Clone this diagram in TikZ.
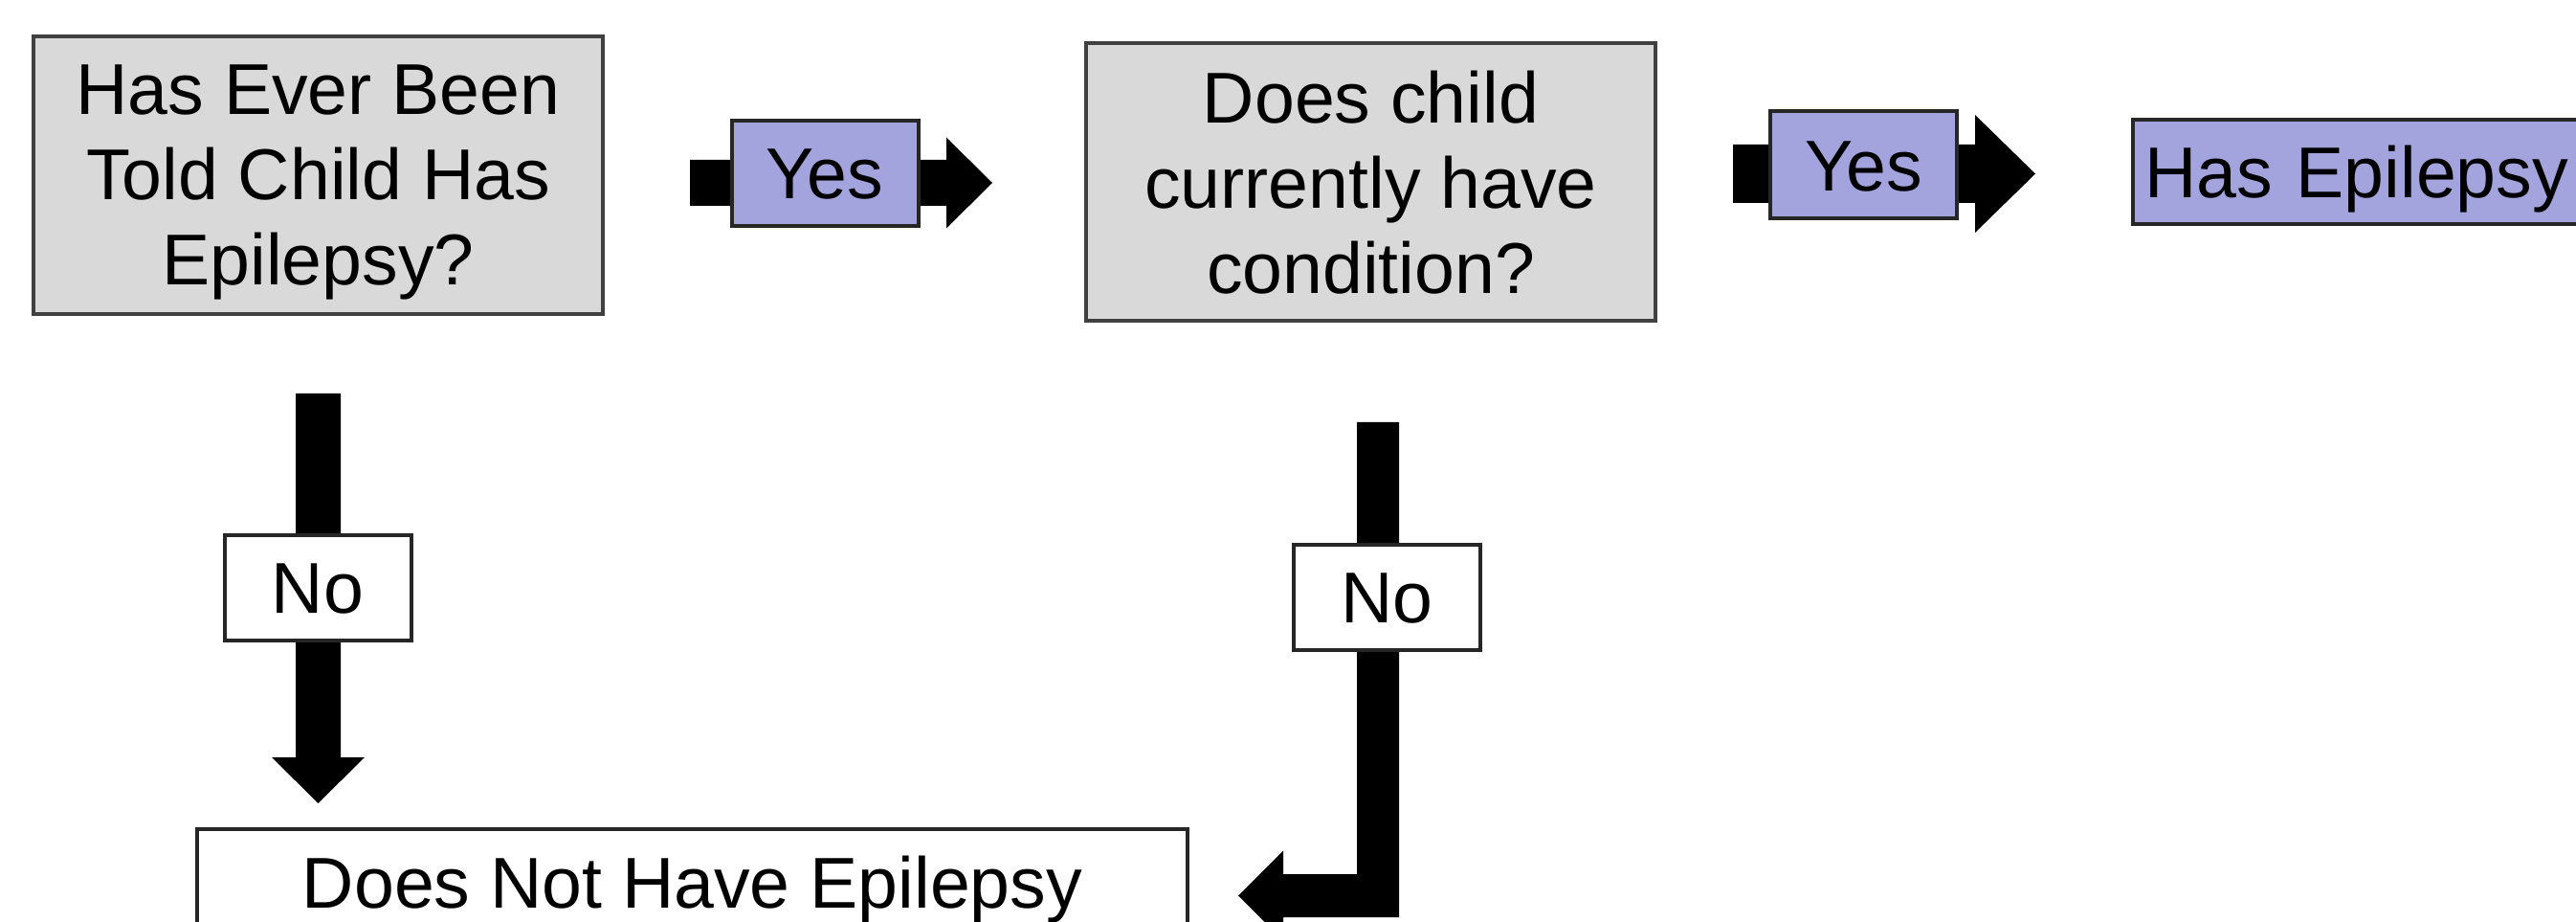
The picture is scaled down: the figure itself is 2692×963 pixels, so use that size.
\documentclass[tikz,border=0pt]{standalone}
\usepackage{fontspec}
\setmainfont{Liberation Sans}
\usetikzlibrary{calc}
\definecolor{qfill}{RGB}{217,217,217}
\definecolor{qdraw}{RGB}{64,64,64}
\definecolor{lav}{RGB}{163,163,222}
\definecolor{ldraw}{RGB}{38,38,38}
% horizontal block arrow: start, tip, shaft half, head half, head length
\newcommand{\harrow}[5]{%
  \fill[blk] ($(#1)+(0,-#3)$) -- ($(#2)+(-#5,-#3)$) -- ($(#2)+(-#5,-#4)$) -- (#2)
    -- ($(#2)+(-#5,#4)$) -- ($(#2)+(-#5,#3)$) -- ($(#1)+(0,#3)$) -- cycle;}
% vertical (downward) block arrow
\newcommand{\varrow}[5]{%
  \fill[blk] ($(#1)+(-#3,0)$) -- ($(#2)+(-#3,-#5)$) -- ($(#2)+(-#4,-#5)$) -- (#2)
    -- ($(#2)+(#4,-#5)$) -- ($(#2)+(#3,-#5)$) -- ($(#1)+(#3,0)$) -- cycle;}
\begin{document}
\begin{tikzpicture}[x=0.25pt,y=-0.25pt,
  every node/.style={font=\fontsize{18.8pt}{22.25pt}\selectfont, inner sep=0pt},
  qbox/.style={draw=qdraw, fill=qfill, line width=1pt, minimum width=148.75pt,
    minimum height=72.5pt, align=center},
  lbl/.style={draw=ldraw, line width=1pt, minimum width=48.75pt, minimum height=27.5pt,
    text height=13.5pt, text depth=0pt},
  yeslbl/.style={lbl, fill=lav},
  nolbl/.style={lbl, fill=white},
  blk/.style={fill=black}]
\clip (0,0) rectangle (2692,963);
\fill[white] (0,0) rectangle (2692,963);

% main boxes
\node[qbox] (q1) at (332.5,183) {Has Ever Been\\Told Child Has\\\smash{Epilepsy?}};
\node[qbox] (q2) at (1432.5,190.5) {Does child\\currently have\\condition?};
\node[draw=ldraw, fill=lav, line width=1pt, anchor=north west, minimum height=27.25pt,
  text width=125pt, align=left, inner xsep=3pt, text height=13.5pt, text depth=0pt]
  (has) at (2227,123) {Has Epilepsy};
\node[draw=ldraw, fill=white, line width=1pt, minimum width=258.75pt, minimum height=27.5pt,
  text height=13.5pt, text depth=0pt] (not) at (723.5,921) {Does Not Have Epilepsy};

% connector end points
\coordinate (a1s) at (721,191);   \coordinate (a1t) at (1037,191);
\coordinate (a2s) at (1811,181.5); \coordinate (a2t) at (2127,181.5);
\coordinate (d1s) at (332.5,411); \coordinate (d1t) at (332.5,839);
\coordinate (e1s) at (1440,441);  \coordinate (e1t) at (1294,935.5);

% block arrows
\harrow{a1s}{a1t}{24}{47.5}{48}
\harrow{a2s}{a2t}{30.5}{61.5}{63}
\varrow{d1s}{d1t}{23.5}{48.5}{48}
\fill[blk] ($(e1s)+(-22,0)$) -- ($(e1s |- e1t)+(-22,-22.5)$) -- ($(e1t)+(47,-22.5)$)
  -- ($(e1t)+(47,-47)$) -- (e1t) -- ($(e1t)+(47,47)$) -- ($(e1t)+(47,22.5)$)
  -- ($(e1s |- e1t)+(22,22.5)$) -- ($(e1s)+(22,0)$) -- cycle;

% labels on the arrows
\node[yeslbl] (yes1) at (862,181) {Yes};
\node[yeslbl, minimum height=28pt] (yes2) at (1947.5,172.5) {Yes};
\node[nolbl] (no1) at (332,614) {No};
\node[nolbl] (no2) at (1449.5,624) {No};
\end{tikzpicture}
\end{document}
